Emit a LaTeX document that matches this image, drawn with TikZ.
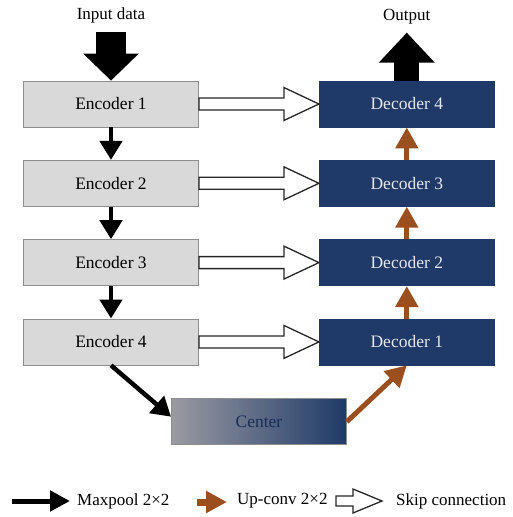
\documentclass[tikz,border=0pt]{standalone}
\usepackage{fontspec}
\setmainfont{Liberation Serif}
\usetikzlibrary{positioning,arrows.meta,calc}
\definecolor{UNavy}{HTML}{1F3A68}
\definecolor{UGray}{HTML}{D9D9D9}
\definecolor{UEdge}{HTML}{8E8E8E}
\definecolor{UBrown}{HTML}{9C4F1E}
\definecolor{UShade}{HTML}{9A9AA2}

\begin{document}
\begin{tikzpicture}[
    x=1pt, y=-1pt,
    node distance=32.5pt and 120pt,
    encbox/.style={
      draw=UEdge,
      fill=UGray,
      line width=0.8pt,
      minimum width=175pt,
      minimum height=46pt,
      inner sep=0pt,
      font=\fontsize{17.5}{20}\selectfont
    },
    decbox/.style={
      encbox,
      draw=UNavy,
      fill=UNavy,
      text=white!88!UNavy
    },
    centerbox/.style={
      encbox,
      draw=UEdge,
      left color=UShade,
      right color=UNavy,
      text=UNavy!80!black
    },
    poolarrow/.style={
      -{Triangle[length=19pt,width=22pt]},
      line width=4.5pt,
      black
    },
    convarrow/.style={
      -{Triangle[length=21pt,width=22pt]},
      line width=5pt,
      UBrown
    },
    skiparrow/.style={
      draw=black!85,
      fill=white,
      line width=1.3pt,
      line join=miter
    },
    bigarrow/.style={
      -{Triangle[length=27pt,width=54pt]},
      line width=30pt,
      black
    },
    lbl/.style={
      inner sep=0pt,
      font=\fontsize{17}{20}\selectfont
    }
  ]
  \useasboundingbox (0,0) rectangle (512,517);

  % encoder column
  \node[encbox] (enc1) at (111,104) {Encoder 1};
  \node[encbox, below=of enc1] (enc2) {Encoder 2};
  \node[encbox, below=of enc2] (enc3) {Encoder 3};
  \node[encbox, below=of enc3] (enc4) {Encoder 4};

  % decoder column
  \node[decbox, right=of enc1] (dec4) {Decoder 4};
  \node[decbox, right=of enc2] (dec3) {Decoder 3};
  \node[decbox, right=of enc3] (dec2) {Decoder 2};
  \node[decbox, right=of enc4] (dec1) {Decoder 1};

  % bottleneck
  \coordinate (mid) at ($(enc4.south)!0.5!(dec1.south)$);
  \node[centerbox, below=33pt of mid] (center) {Center};

  % input / output
  \coordinate (inTop) at ($(enc1.north)+(0,-49)$);
  \coordinate (outTip) at ($(dec4.north)+(0,-48)$);
  \node[lbl, above=8pt of inTop] (input) {Input data};
  \node[lbl, above=8pt of outTip] (output) {Output};
  \draw[bigarrow] (inTop) -- (enc1.north);
  \draw[bigarrow, line width=25pt, -{Triangle[length=30pt,width=54pt]}] (dec4.north) -- (outTip);

  % maxpool and up-conv
  \foreach \a/\b in {1/2,2/3,3/4}
    \draw[poolarrow] (enc\a) -- (enc\b);
  \foreach \a/\b in {1/2,2/3,3/4}
    \draw[convarrow] (dec\a) -- (dec\b);
  \draw[poolarrow] (enc4.south) -- ($(center.west)+(0,-5)$);
  \draw[convarrow] (center.east) -- (dec1.south);

  % skip connections
  \foreach \i/\j in {1/4,2/3,3/2,4/1}
    \draw[skiparrow] ($(enc\i.east)+(0,-6)$) -- ($(dec\j.west)+(-35,-6)$)
      -- ($(dec\j.west)+(-35,-16.5)$) -- (dec\j.west)
      -- ($(dec\j.west)+(-35,16.5)$) -- ($(dec\j.west)+(-35,6)$)
      -- ($(enc\i.east)+(0,6)$) -- cycle;

  % legend
  \coordinate (legA) at (12,501);
  \coordinate (legB) at (70,501);
  \node[lbl, anchor=west] (legPool) at (77,501) {Maxpool 2×2};
  \draw[poolarrow, line width=5pt, -{Triangle[length=20pt,width=20pt]}] (legA) -- (legB);

  \coordinate (legC) at (197,502);
  \coordinate (legD) at (227,502);
  \node[lbl, anchor=west] (legConv) at (237,501) {Up-conv 2×2};
  \draw[convarrow, line width=7pt, -{Triangle[length=21pt,width=21pt]}] (legC) -- (legD);

  \coordinate (legE) at (336,501);
  \coordinate (legF) at (382,501);
  \node[lbl, anchor=west] (legSkip) at (396,501) {Skip connection};
  \draw[skiparrow] ($(legE)+(0,-5)$) -- ($(legF)+(-29,-5)$)
    -- ($(legF)+(-29,-12)$) -- (legF) -- ($(legF)+(-29,12)$)
    -- ($(legF)+(-29,5)$) -- ($(legE)+(0,5)$) -- cycle;

\end{tikzpicture}
\end{document}
